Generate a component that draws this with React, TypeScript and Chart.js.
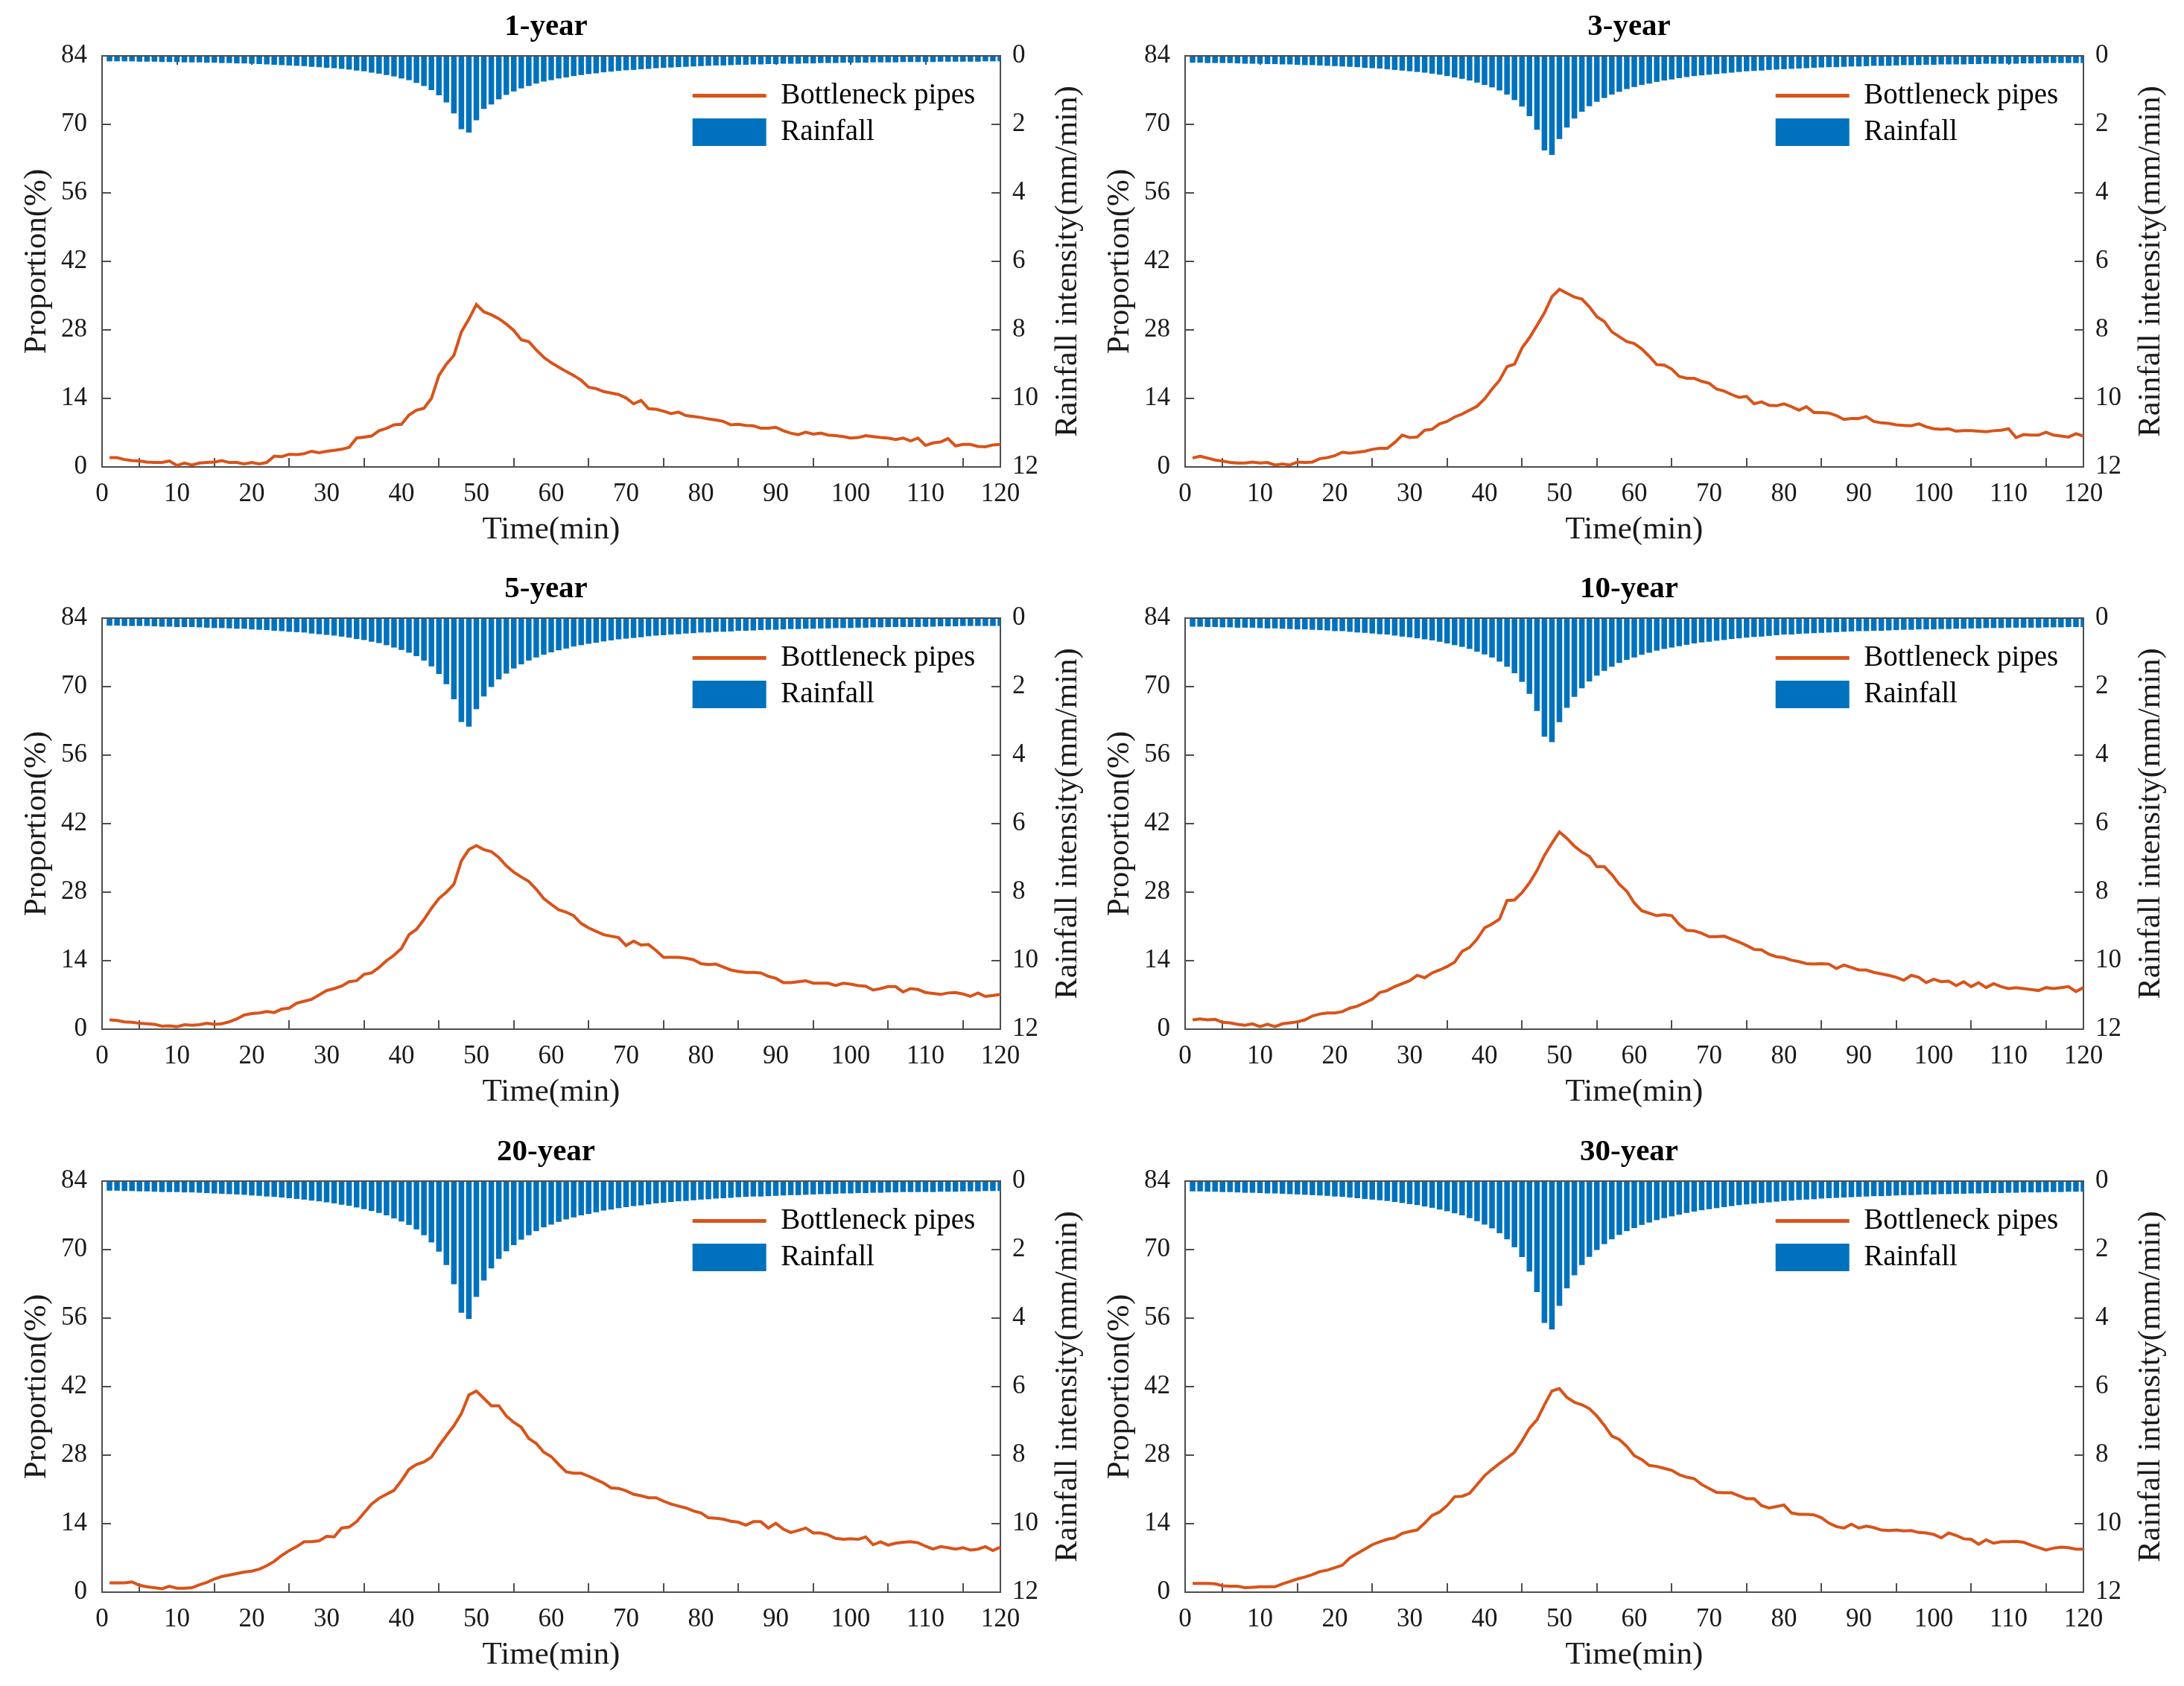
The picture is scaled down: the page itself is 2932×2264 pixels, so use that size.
import { useEffect, useRef } from "react"
import { Chart, registerables } from "chart.js"

Chart.register(...registerables)
Chart.defaults.font.family = "'Liberation Serif', 'Times New Roman', serif"

// time axis (min)
const minutes = [
  1, 2, 3, 4, 5, 6, 7, 8, 9, 10, 11, 12, 13, 14, 15, 16, 17, 18, 19, 20,
  21, 22, 23, 24, 25, 26, 27, 28, 29, 30, 31, 32, 33, 34, 35, 36, 37, 38, 39, 40,
  41, 42, 43, 44, 45, 46, 47, 48, 49, 50, 51, 52, 53, 54, 55, 56, 57, 58, 59, 60,
  61, 62, 63, 64, 65, 66, 67, 68, 69, 70, 71, 72, 73, 74, 75, 76, 77, 78, 79, 80,
  81, 82, 83, 84, 85, 86, 87, 88, 89, 90, 91, 92, 93, 94, 95, 96, 97, 98, 99, 100,
  101, 102, 103, 104, 105, 106, 107, 108, 109, 110, 111, 112, 113, 114, 115, 116, 117, 118, 119, 120,
]

// rainfall intensity (mm/min)
const rain1y = [
  0.16, 0.16, 0.16, 0.16, 0.17, 0.17, 0.17, 0.18, 0.18, 0.18,
  0.19, 0.19, 0.19, 0.2, 0.2, 0.21, 0.21, 0.22, 0.22, 0.23,
  0.24, 0.25, 0.26, 0.27, 0.28, 0.29, 0.3, 0.32, 0.33, 0.35,
  0.36, 0.38, 0.4, 0.43, 0.45, 0.49, 0.52, 0.56, 0.6, 0.66,
  0.71, 0.79, 0.88, 1.0, 1.15, 1.36, 1.68, 2.14, 2.24, 1.88,
  1.55, 1.42, 1.27, 1.14, 1.04, 0.95, 0.88, 0.81, 0.75, 0.71,
  0.66, 0.63, 0.59, 0.56, 0.53, 0.51, 0.48, 0.46, 0.44, 0.42,
  0.41, 0.39, 0.38, 0.36, 0.35, 0.34, 0.33, 0.32, 0.31, 0.3,
  0.29, 0.28, 0.28, 0.27, 0.26, 0.26, 0.25, 0.25, 0.24, 0.24,
  0.23, 0.23, 0.23, 0.22, 0.22, 0.21, 0.21, 0.21, 0.2, 0.2,
  0.2, 0.2, 0.19, 0.19, 0.19, 0.19, 0.18, 0.18, 0.18, 0.18,
  0.18, 0.17, 0.17, 0.17, 0.17, 0.17, 0.17, 0.16, 0.16, 0.16,
]
const rain3y = [
  0.2, 0.2, 0.21, 0.21, 0.21, 0.21, 0.22, 0.23, 0.23, 0.23,
  0.24, 0.24, 0.25, 0.25, 0.26, 0.27, 0.27, 0.28, 0.29, 0.3,
  0.31, 0.32, 0.33, 0.35, 0.36, 0.37, 0.39, 0.41, 0.43, 0.45,
  0.47, 0.49, 0.52, 0.55, 0.59, 0.63, 0.67, 0.72, 0.78, 0.85,
  0.92, 1.01, 1.13, 1.29, 1.48, 1.76, 2.16, 2.76, 2.89, 2.43,
  2.09, 1.83, 1.63, 1.47, 1.34, 1.23, 1.13, 1.05, 0.97, 0.91,
  0.85, 0.81, 0.76, 0.72, 0.69, 0.65, 0.62, 0.59, 0.57, 0.55,
  0.53, 0.51, 0.49, 0.47, 0.45, 0.44, 0.43, 0.41, 0.4, 0.39,
  0.38, 0.37, 0.36, 0.35, 0.34, 0.33, 0.33, 0.32, 0.31, 0.31,
  0.3, 0.29, 0.29, 0.29, 0.28, 0.27, 0.27, 0.27, 0.26, 0.26,
  0.25, 0.25, 0.25, 0.25, 0.24, 0.24, 0.23, 0.23, 0.23, 0.23,
  0.23, 0.22, 0.22, 0.22, 0.21, 0.21, 0.21, 0.21, 0.21, 0.21,
]
const rain5y = [
  0.22, 0.22, 0.23, 0.23, 0.23, 0.23, 0.24, 0.25, 0.25, 0.26,
  0.26, 0.26, 0.27, 0.28, 0.29, 0.29, 0.3, 0.31, 0.31, 0.33,
  0.34, 0.35, 0.37, 0.38, 0.4, 0.41, 0.42, 0.45, 0.47, 0.49,
  0.51, 0.54, 0.57, 0.61, 0.64, 0.69, 0.73, 0.79, 0.86, 0.93,
  1.01, 1.11, 1.24, 1.41, 1.63, 1.93, 2.37, 3.03, 3.17, 2.66,
  2.29, 2.01, 1.79, 1.62, 1.47, 1.35, 1.24, 1.15, 1.07, 1.0,
  0.94, 0.89, 0.83, 0.79, 0.75, 0.72, 0.68, 0.65, 0.62, 0.6,
  0.58, 0.56, 0.53, 0.51, 0.5, 0.48, 0.47, 0.45, 0.44, 0.42,
  0.42, 0.4, 0.4, 0.39, 0.37, 0.37, 0.36, 0.35, 0.34, 0.34,
  0.33, 0.32, 0.32, 0.31, 0.31, 0.3, 0.3, 0.29, 0.29, 0.29,
  0.28, 0.28, 0.27, 0.27, 0.26, 0.26, 0.26, 0.26, 0.26, 0.25,
  0.25, 0.24, 0.24, 0.24, 0.23, 0.23, 0.23, 0.23, 0.23, 0.23,
]
const rain10y = [
  0.25, 0.25, 0.26, 0.26, 0.27, 0.27, 0.28, 0.28, 0.28, 0.29,
  0.3, 0.3, 0.31, 0.32, 0.33, 0.33, 0.34, 0.35, 0.36, 0.38,
  0.38, 0.4, 0.42, 0.43, 0.45, 0.47, 0.48, 0.51, 0.54, 0.56,
  0.59, 0.62, 0.65, 0.69, 0.74, 0.79, 0.84, 0.9, 0.98, 1.06,
  1.15, 1.27, 1.42, 1.61, 1.86, 2.21, 2.71, 3.46, 3.62, 3.04,
  2.62, 2.3, 2.05, 1.85, 1.68, 1.54, 1.42, 1.31, 1.22, 1.15,
  1.07, 1.01, 0.95, 0.9, 0.86, 0.82, 0.78, 0.74, 0.71, 0.69,
  0.66, 0.64, 0.61, 0.59, 0.57, 0.55, 0.54, 0.52, 0.5, 0.48,
  0.48, 0.46, 0.45, 0.44, 0.43, 0.42, 0.41, 0.4, 0.39, 0.38,
  0.38, 0.37, 0.37, 0.36, 0.35, 0.34, 0.34, 0.33, 0.33, 0.33,
  0.32, 0.32, 0.31, 0.31, 0.3, 0.3, 0.29, 0.29, 0.29, 0.28,
  0.28, 0.28, 0.28, 0.28, 0.27, 0.27, 0.27, 0.26, 0.26, 0.26,
]
const rain20y = [
  0.28, 0.28, 0.29, 0.29, 0.3, 0.3, 0.31, 0.32, 0.32, 0.32,
  0.33, 0.33, 0.34, 0.35, 0.36, 0.37, 0.38, 0.39, 0.4, 0.42,
  0.43, 0.45, 0.46, 0.48, 0.5, 0.52, 0.54, 0.57, 0.59, 0.62,
  0.65, 0.69, 0.72, 0.77, 0.82, 0.87, 0.93, 1.0, 1.09, 1.18,
  1.28, 1.41, 1.58, 1.79, 2.06, 2.45, 3.01, 3.84, 4.02, 3.38,
  2.9, 2.55, 2.27, 2.05, 1.87, 1.71, 1.58, 1.46, 1.35, 1.27,
  1.19, 1.12, 1.06, 1.0, 0.96, 0.91, 0.86, 0.83, 0.79, 0.76,
  0.73, 0.71, 0.68, 0.65, 0.63, 0.61, 0.59, 0.58, 0.56, 0.54,
  0.53, 0.51, 0.5, 0.49, 0.47, 0.46, 0.45, 0.45, 0.44, 0.43,
  0.42, 0.41, 0.41, 0.4, 0.39, 0.38, 0.38, 0.37, 0.36, 0.36,
  0.35, 0.35, 0.34, 0.34, 0.33, 0.33, 0.32, 0.32, 0.32, 0.32,
  0.32, 0.31, 0.31, 0.31, 0.3, 0.3, 0.3, 0.29, 0.29, 0.29,
]
const rain30y = [
  0.3, 0.3, 0.31, 0.31, 0.32, 0.32, 0.33, 0.34, 0.34, 0.35,
  0.36, 0.36, 0.37, 0.38, 0.39, 0.4, 0.41, 0.42, 0.43, 0.45,
  0.46, 0.48, 0.5, 0.52, 0.54, 0.56, 0.58, 0.61, 0.64, 0.67,
  0.7, 0.74, 0.78, 0.83, 0.88, 0.94, 1.0, 1.08, 1.17, 1.27,
  1.38, 1.52, 1.7, 1.93, 2.22, 2.64, 3.24, 4.14, 4.33, 3.64,
  3.13, 2.75, 2.45, 2.21, 2.01, 1.84, 1.7, 1.57, 1.46, 1.37,
  1.28, 1.21, 1.14, 1.08, 1.03, 0.98, 0.93, 0.89, 0.85, 0.82,
  0.79, 0.76, 0.73, 0.7, 0.68, 0.66, 0.64, 0.62, 0.6, 0.58,
  0.57, 0.55, 0.54, 0.53, 0.51, 0.5, 0.49, 0.48, 0.47, 0.46,
  0.45, 0.44, 0.44, 0.43, 0.42, 0.41, 0.41, 0.4, 0.39, 0.39,
  0.38, 0.38, 0.37, 0.37, 0.36, 0.36, 0.35, 0.35, 0.35, 0.34,
  0.34, 0.33, 0.33, 0.33, 0.32, 0.32, 0.32, 0.31, 0.31, 0.31,
]

// proportion of bottleneck pipes (%)
const pipes1y = [
  1.9, 1.9, 1.5, 1.3, 1.2, 1.0, 0.9, 0.9, 1.2, 0.3,
  0.8, 0.4, 0.8, 0.9, 1.0, 1.3, 0.9, 0.9, 0.6, 0.9,
  0.6, 0.9, 2.2, 2.1, 2.6, 2.5, 2.7, 3.2, 2.9, 3.2,
  3.4, 3.6, 4.0, 5.9, 6.1, 6.3, 7.4, 7.9, 8.6, 8.7,
  10.6, 11.6, 12.0, 14.0, 18.7, 21.0, 22.8, 27.6, 30.2, 33.2,
  31.7, 31.1, 30.3, 29.2, 27.9, 26.0, 25.6, 23.9, 22.4, 21.3,
  20.4, 19.5, 18.7, 17.7, 16.3, 16.0, 15.4, 15.1, 14.8, 14.1,
  12.9, 13.6, 11.9, 11.8, 11.4, 10.9, 11.2, 10.5, 10.3, 10.1,
  9.8, 9.6, 9.3, 8.6, 8.7, 8.5, 8.4, 7.9, 7.9, 8.1,
  7.4, 6.9, 6.6, 7.1, 6.7, 6.9, 6.5, 6.4, 6.2, 5.9,
  6.0, 6.4, 6.2, 6.0, 5.9, 5.6, 5.9, 5.3, 5.9, 4.4,
  4.9, 5.1, 5.8, 4.3, 4.6, 4.6, 4.2, 4.1, 4.5, 4.6,
]
const pipes3y = [
  1.8, 2.2, 1.8, 1.4, 1.2, 0.9, 0.8, 0.8, 1.0, 0.8,
  0.9, 0.4, 0.6, 0.4, 1.0, 0.9, 1.0, 1.7, 1.9, 2.3,
  3.0, 2.8, 3.0, 3.2, 3.6, 3.8, 3.8, 5.0, 6.5, 6.0,
  6.1, 7.5, 7.7, 8.8, 9.3, 10.2, 10.8, 11.6, 12.4, 13.9,
  15.9, 17.7, 20.5, 21.0, 24.3, 26.4, 28.9, 31.5, 34.8, 36.3,
  35.5, 34.7, 34.3, 32.7, 30.7, 29.7, 27.6, 26.6, 25.6, 25.2,
  24.1, 22.6, 20.9, 20.8, 20.0, 18.5, 18.1, 18.1, 17.5, 17.1,
  15.9, 15.5, 14.8, 14.2, 14.4, 12.9, 13.3, 12.6, 12.5, 12.9,
  12.3, 11.6, 12.3, 11.1, 11.1, 11.0, 10.5, 9.7, 9.9, 9.9,
  10.3, 9.3, 9.0, 8.9, 8.6, 8.5, 8.4, 8.8, 8.2, 7.8,
  7.7, 7.8, 7.3, 7.4, 7.4, 7.3, 7.2, 7.4, 7.5, 7.8,
  6.0, 6.6, 6.5, 6.5, 7.1, 6.5, 6.3, 6.1, 6.8, 6.3,
]
const pipes5y = [
  1.9, 1.8, 1.5, 1.4, 1.2, 1.1, 1.0, 0.6, 0.7, 0.5,
  0.9, 0.8, 0.9, 1.2, 1.0, 1.1, 1.5, 2.1, 2.9, 3.2,
  3.3, 3.6, 3.4, 4.1, 4.3, 5.3, 5.7, 6.1, 7.0, 7.9,
  8.3, 8.8, 9.7, 9.9, 11.2, 11.5, 12.6, 14.0, 15.1, 16.5,
  19.3, 20.4, 22.4, 24.7, 26.7, 28.0, 29.6, 34.4, 36.7, 37.5,
  36.7, 36.3, 35.1, 33.4, 32.1, 31.1, 30.2, 28.6, 26.7, 25.5,
  24.4, 23.9, 23.2, 21.6, 20.7, 20.0, 19.3, 19.0, 18.7, 17.1,
  18.0, 17.2, 17.3, 16.1, 14.7, 14.7, 14.7, 14.5, 14.2, 13.4,
  13.2, 13.3, 12.7, 12.1, 11.8, 11.6, 11.6, 11.5, 10.8, 10.4,
  9.5, 9.5, 9.7, 9.9, 9.4, 9.4, 9.4, 8.9, 9.4, 9.2,
  8.9, 8.8, 8.0, 8.3, 8.7, 8.7, 7.6, 8.3, 8.1, 7.5,
  7.3, 7.1, 7.4, 7.5, 7.2, 6.7, 7.4, 6.7, 6.9, 7.1,
]
const pipes10y = [
  1.9, 2.1, 1.9, 2.0, 1.4, 1.3, 1.0, 0.8, 1.1, 0.5,
  1.0, 0.5, 1.1, 1.3, 1.5, 1.9, 2.7, 3.1, 3.3, 3.3,
  3.6, 4.3, 4.7, 5.4, 6.1, 7.5, 7.9, 8.7, 9.3, 9.9,
  11.0, 10.5, 11.5, 12.1, 12.8, 13.7, 15.9, 16.7, 18.4, 20.7,
  21.5, 22.5, 26.3, 26.4, 27.9, 29.9, 32.4, 35.5, 38.0, 40.3,
  39.0, 37.4, 36.2, 35.3, 33.2, 33.2, 31.6, 29.6, 28.2, 25.8,
  24.2, 23.7, 23.2, 23.4, 23.2, 21.4, 20.2, 20.1, 19.6, 18.9,
  18.9, 19.0, 18.4, 17.8, 17.1, 16.3, 16.2, 15.3, 14.8, 14.6,
  14.1, 13.8, 13.4, 13.3, 13.4, 13.3, 12.4, 13.1, 12.6, 12.1,
  12.1, 11.6, 11.3, 11.0, 10.6, 10.0, 11.0, 10.6, 9.5, 10.2,
  9.7, 9.8, 8.9, 9.7, 8.7, 9.5, 8.5, 9.3, 8.7, 8.3,
  8.5, 8.3, 8.1, 7.9, 8.5, 8.3, 8.5, 8.7, 7.7, 8.5,
]
const pipes20y = [
  1.9, 1.9, 1.9, 2.1, 1.4, 1.1, 0.9, 0.7, 1.2, 0.8,
  0.8, 0.9, 1.5, 2.0, 2.7, 3.2, 3.5, 3.8, 4.1, 4.3,
  4.7, 5.4, 6.3, 7.5, 8.5, 9.3, 10.3, 10.3, 10.5, 11.4,
  11.3, 13.1, 13.3, 14.4, 16.2, 18.0, 19.2, 20.0, 20.8, 22.8,
  25.1, 26.1, 26.6, 27.6, 29.9, 32.0, 34.0, 36.5, 40.3, 41.1,
  39.6, 38.1, 38.1, 36.0, 34.7, 33.7, 31.4, 30.4, 28.6, 27.7,
  26.1, 24.6, 24.3, 24.3, 23.7, 23.0, 22.3, 21.3, 21.2, 20.7,
  20.0, 19.7, 19.3, 19.3, 18.6, 18.0, 17.6, 17.2, 16.6, 16.2,
  15.2, 15.1, 14.9, 14.5, 14.3, 13.7, 14.4, 14.4, 13.1, 14.1,
  12.9, 12.2, 12.6, 13.1, 12.1, 12.1, 11.7, 11.0, 10.8, 10.9,
  10.8, 11.3, 9.7, 10.3, 9.6, 10.0, 10.2, 10.3, 10.1, 9.4,
  8.8, 9.3, 9.1, 8.8, 9.1, 8.6, 8.8, 9.3, 8.5, 9.2,
]
const pipes30y = [
  1.8, 1.8, 1.8, 1.7, 1.3, 1.2, 1.2, 0.9, 1.0, 1.1,
  1.1, 1.1, 1.7, 2.2, 2.7, 3.1, 3.6, 4.2, 4.5, 5.0,
  5.5, 7.0, 7.9, 8.8, 9.7, 10.3, 10.8, 11.1, 12.0, 12.4,
  12.7, 14.1, 15.7, 16.4, 17.7, 19.5, 19.6, 20.2, 22.0, 23.8,
  25.1, 26.3, 27.4, 28.6, 30.9, 33.5, 35.2, 38.3, 41.1, 41.6,
  39.8, 38.8, 38.3, 37.5, 36.0, 34.1, 31.9, 31.2, 29.8, 27.9,
  27.1, 25.9, 25.7, 25.3, 24.9, 24.0, 23.5, 23.2, 22.0, 21.2,
  20.4, 20.3, 20.3, 19.7, 19.1, 19.1, 17.7, 17.2, 17.5, 17.8,
  16.2, 15.9, 15.9, 15.8, 15.2, 14.1, 13.4, 13.1, 13.9, 13.1,
  13.5, 13.2, 12.7, 12.6, 12.7, 12.5, 12.6, 12.2, 12.1, 11.8,
  11.1, 12.1, 11.6, 10.9, 10.8, 9.8, 10.7, 10.0, 10.3, 10.3,
  10.4, 10.2, 9.6, 9.1, 8.6, 9.0, 9.2, 9.1, 8.8, 8.8,
]

const panelTitles = ["1-year", "3-year", "5-year", "10-year", "20-year", "30-year"]
const rainSeries = [rain1y, rain3y, rain5y, rain10y, rain20y, rain30y]
const pipeSeries = [pipes1y, pipes3y, pipes5y, pipes10y, pipes20y, pipes30y]

const lineLabel = "Bottleneck pipes"
const barLabel = "Rainfall"

const lineColor = "#D95319"
const barColor = "#0072BD"
const axisColor = "#4d4d4d"
const textColor = "#1a1a1a"

const CANVAS_W = 1466
const CANVAS_H = 755

const axisGrid = {
  display: true,
  drawOnChartArea: false,
  drawTicks: true,
  tickLength: -12,
  color: axisColor,
  lineWidth: 2,
}
const axisBorder = { display: true, color: axisColor, width: 2 }

// put the legend inside the plot, upper right (like MATLAB's northeast)
const legendInside = {
  id: "legendInside",
  afterLayout(chart: any) {
    const lg = chart.legend
    const ca = chart.chartArea
    if (!lg || !ca) return
    const w = lg.width
    lg.left = ca.left + ca.width * 0.649
    lg.right = lg.left + w
    lg.top = ca.top + 24
    lg.bottom = ca.bottom
  },
}

// right axis title reads bottom-to-top in the reference
const rightTitle = {
  id: "rightTitle",
  afterDraw(chart: any) {
    const { ctx, chartArea } = chart
    ctx.save()
    ctx.translate(chartArea.right + 91, (chartArea.top + chartArea.bottom) / 2)
    ctx.rotate(-Math.PI / 2)
    ctx.font = "43px 'Liberation Serif', 'Times New Roman', serif"
    ctx.fillStyle = textColor
    ctx.textAlign = "center"
    ctx.textBaseline = "middle"
    ctx.fillText("Rainfall intensity(mm/min)", 0, 0)
    ctx.restore()
  },
}

function Panel({ title, rain, pipes, left, top }: { title: string; rain: number[]; pipes: number[]; left: number; top: number }) {
  const canvasRef = useRef<HTMLCanvasElement>(null)

  useEffect(() => {
    if (!canvasRef.current) return
    const ctx = canvasRef.current.getContext("2d")
    if (!ctx) return

    const chart = new Chart(ctx, {
      type: "line",
      data: {
        datasets: [
          {
            type: "line",
            label: lineLabel,
            data: pipes.map((v, i) => ({ x: minutes[i], y: v })),
            borderColor: lineColor,
            backgroundColor: lineColor,
            borderWidth: 4,
            pointRadius: 0,
            tension: 0,
            fill: false,
            xAxisID: "x",
            yAxisID: "y",
            order: 0,
          },
          {
            type: "bar",
            label: barLabel,
            data: rain.map((v, i) => ({ x: minutes[i], y: v })),
            backgroundColor: barColor,
            borderWidth: 0,
            barPercentage: 0.75,
            categoryPercentage: 1,
            xAxisID: "x",
            yAxisID: "y1",
            order: 1,
          },
        ],
      } as any,
      options: {
        animation: false,
        responsive: false,
        devicePixelRatio: 1,
        layout: { padding: 0 },
        plugins: {
          title: {
            display: true,
            text: title,
            color: "#000",
            font: { size: 41, weight: "bold", lineHeight: 1.2 },
            padding: { top: 12, bottom: 0 },
          },
          legend: {
            position: "chartArea",
            align: "start",
            labels: {
              usePointStyle: true,
              pointStyleWidth: 99,
              boxHeight: 37,
              padding: 10,
              color: "#000",
              font: { size: 39 },
              generateLabels: () => [
                { text: lineLabel, pointStyle: "line", strokeStyle: lineColor, fillStyle: lineColor, lineWidth: 5, fontColor: "#000", hidden: false, datasetIndex: 0 },
                { text: barLabel, pointStyle: "rect", strokeStyle: barColor, fillStyle: barColor, lineWidth: 0, fontColor: "#000", hidden: false, datasetIndex: 1 },
              ],
            },
          },
          tooltip: { enabled: false },
        },
        scales: {
          x: {
            type: "linear",
            position: "bottom",
            min: 0,
            max: 120,
            offset: false,
            ticks: { stepSize: 10, padding: 28, color: textColor, font: { size: 35 }, maxRotation: 0, autoSkip: false },
            grid: axisGrid,
            border: axisBorder,
            title: { display: true, text: "Time(min)", color: textColor, font: { size: 43, lineHeight: 1.2 }, padding: { top: 0, bottom: 17 } },
            afterFit: (s: any) => { s.height = 128 },
          },
          xTop: {
            type: "linear",
            position: "top",
            min: 0,
            max: 120,
            offset: false,
            ticks: { stepSize: 10, display: false },
            grid: axisGrid,
            border: axisBorder,
            afterFit: (s: any) => { s.height = 13.8 },
          },
          y: {
            type: "linear",
            position: "left",
            min: 0,
            max: 84,
            ticks: { stepSize: 14, padding: 32, color: textColor, font: { size: 35 } },
            grid: axisGrid,
            border: axisBorder,
            title: { display: true, text: "Proportion(%)", color: textColor, font: { size: 43, lineHeight: 1.2 }, padding: { top: 24, bottom: 0 } },
            afterFit: (s: any) => { s.width = 137 },
          },
          y1: {
            type: "linear",
            position: "right",
            min: 0,
            max: 12,
            reverse: true,
            ticks: { stepSize: 2, padding: 28, color: textColor, font: { size: 35 } },
            grid: axisGrid,
            border: axisBorder,
            afterFit: (s: any) => { s.width = 123 },
          },
        },
      } as any,
      plugins: [legendInside, rightTitle],
    })

    return () => {
      chart.destroy()
    }
  }, [title, rain, pipes])

  return (
    <canvas
      ref={canvasRef}
      width={CANVAS_W}
      height={CANVAS_H}
      style={{ position: "absolute", left, top, width: CANVAS_W, height: CANVAS_H }}
    />
  )
}

const colLefts = [0, 1454]
const rowTops = [0, 755, 1511]

export default function App() {
  return (
    <div style={{ position: "absolute", left: 0, top: 0, width: 2932, height: 2264, background: "#fff" }}>
      {panelTitles.map((t, i) => (
        <Panel
          key={t}
          title={t}
          rain={rainSeries[i]}
          pipes={pipeSeries[i]}
          left={colLefts[i % 2]}
          top={rowTops[Math.floor(i / 2)]}
        />
      ))}
    </div>
  )
}
